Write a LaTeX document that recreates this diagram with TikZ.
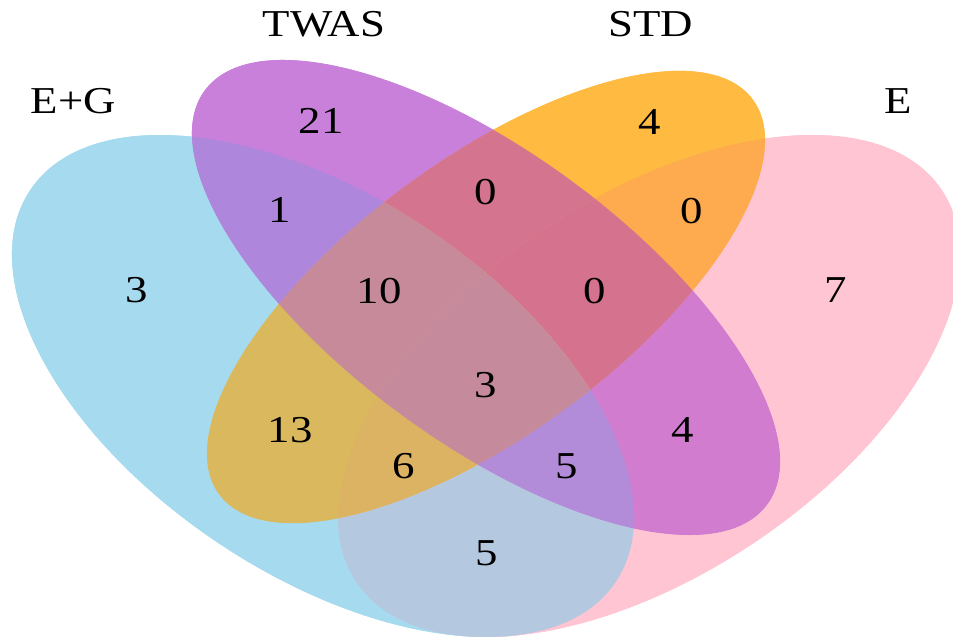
\documentclass[tikz,border=0pt]{standalone}
\usepackage{fontspec}
\setmainfont{Liberation Serif}
\newfontfamily\widefont[FakeStretch=1.18]{Liberation Serif}
\definecolor{cB}{HTML}{A6DAEF}
\definecolor{cP}{HTML}{C980DB}
\definecolor{cO}{HTML}{FFBA42}
\definecolor{cK}{HTML}{FFC5D3}
\definecolor{cBP}{HTML}{AE86DC}
\definecolor{cPO}{HTML}{D4748F}
\definecolor{cOK}{HTML}{FDAB4E}
\definecolor{cBPO}{HTML}{C68A9B}
\definecolor{cPOK}{HTML}{D5728E}
\definecolor{cBPOK}{HTML}{C58A9B}
\definecolor{cBO}{HTML}{DAB85D}
\definecolor{cBOK}{HTML}{DCB263}
\definecolor{cBPK}{HTML}{B28BD9}
\definecolor{cPK}{HTML}{D17CCE}
\definecolor{cBK}{HTML}{B4C8E0}
\tikzset{
  trB/.style={rotate around={-33.8:(323,253)}},
  trK/.style={rotate around={33.8:(649,253)}},
  trP/.style={rotate around={-36.35:(486,341.5)}},
  trO/.style={rotate around={36.5:(486,342)}},
  lbl/.style={font=\widefont\fontsize{38}{40}\selectfont, inner sep=0pt},
}
\newcommand\inB{\clip[trB] (323,253) ellipse [x radius=352.3, y radius=188.7];}
\newcommand\outB{\clip[trB] (-3000,-3000) rectangle (4000,4000) (323,253) ellipse [x radius=352.3, y radius=188.7];}
\newcommand\inK{\clip[trK] (649,253) ellipse [x radius=352.3, y radius=188.7];}
\newcommand\outK{\clip[trK] (-3000,-3000) rectangle (4000,4000) (649,253) ellipse [x radius=352.3, y radius=188.7];}
\newcommand\inP{\clip[trP] (486,341.5) ellipse [x radius=349.2, y radius=144.6];}
\newcommand\outP{\clip[trP] (-3000,-3000) rectangle (4000,4000) (486,341.5) ellipse [x radius=349.2, y radius=144.6];}
\newcommand\inO{\clip[trO] (486,342) ellipse [x radius=331.9, y radius=137.1];}
\newcommand\outO{\clip[trO] (-3000,-3000) rectangle (4000,4000) (486,342) ellipse [x radius=331.9, y radius=137.1];}
\newcommand\vregion[5]{\begin{scope}[even odd rule]#1#2#3#4\fill[#5] (-10,-10) rectangle (963,649);\end{scope}}
\begin{document}
\begin{tikzpicture}[x=1pt,y=1pt]
\useasboundingbox (0,0) rectangle (953,639);
\clip (0,0) rectangle (953,639);
% underlay to hide seams
\fill[cB, trB] (323,253) ellipse [x radius=352.3, y radius=188.7];
\fill[cK, trK] (649,253) ellipse [x radius=352.3, y radius=188.7];
\fill[cP, trP] (486,341.5) ellipse [x radius=349.2, y radius=144.6];
\fill[cO, trO] (486,342) ellipse [x radius=331.9, y radius=137.1];
% regions (B, P, O, K)
\vregion{\inB}{\outP}{\outO}{\outK}{cB}
\vregion{\outB}{\inP}{\outO}{\outK}{cP}
\vregion{\outB}{\outP}{\inO}{\outK}{cO}
\vregion{\outB}{\outP}{\outO}{\inK}{cK}
\vregion{\inB}{\inP}{\outO}{\outK}{cBP}
\vregion{\outB}{\inP}{\inO}{\outK}{cPO}
\vregion{\outB}{\outP}{\inO}{\inK}{cOK}
\vregion{\inB}{\outP}{\inO}{\outK}{cBO}
\vregion{\outB}{\inP}{\outO}{\inK}{cPK}
\vregion{\inB}{\outP}{\outO}{\inK}{cBK}
\vregion{\inB}{\inP}{\inO}{\outK}{cBPO}
\vregion{\outB}{\inP}{\inO}{\inK}{cPOK}
\vregion{\inB}{\outP}{\inO}{\inK}{cBOK}
\vregion{\inB}{\inP}{\outO}{\inK}{cBPK}
\vregion{\inB}{\inP}{\inO}{\inK}{cBPOK}
% set labels
\node[lbl] (twas) at (324,614.5) {TWAS};
\node[lbl] (std) at (650.5,614.5) {STD};
\node[lbl] (eg) at (73.5,538) {E+G};
\node[lbl] (e) at (898.5,537.5) {E};
% counts
\node[lbl] (n21) at (321,518) {21};
\node[lbl] (n4a) at (650,517) {4};
\node[lbl] (n1) at (280,429) {1};
\node[lbl] (n0a) at (486,447) {0};
\node[lbl] (n0b) at (692,428) {0};
\node[lbl] (n3a) at (137,349) {3};
\node[lbl] (n10) at (379,348) {10};
\node[lbl] (n0c) at (595,348) {0};
\node[lbl] (n7) at (836,349) {7};
\node[lbl] (n3b) at (486,254) {3};
\node[lbl] (n13) at (290,208.5) {13};
\node[lbl] (n6) at (404,173) {6};
\node[lbl] (n5a) at (567,173) {5};
\node[lbl] (n4b) at (683,209) {4};
\node[lbl] (n5b) at (486.5,85.5) {5};
\end{tikzpicture}
\end{document}
